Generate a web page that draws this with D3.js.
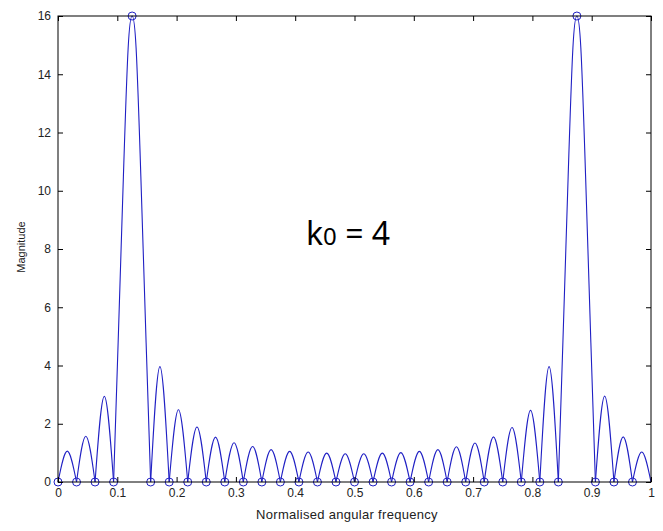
<!DOCTYPE html>
<html>
<head>
<meta charset="utf-8">
<script src="https://cdn.jsdelivr.net/npm/d3@7"></script>
<style>
  html, body { margin: 0; padding: 0; background: #ffffff; }
  svg { display: block; }
</style>
</head>
<body>
<svg id="chart" width="663" height="531"></svg>
<script>
// ---- data ----
const xTicks = [0, 0.1, 0.2, 0.3, 0.4, 0.5, 0.6, 0.7, 0.8, 0.9, 1];
const xTickLabels = ["0", "0.1", "0.2", "0.3", "0.4", "0.5", "0.6", "0.7", "0.8", "0.9", "1"];
const yTicks = [0, 2, 4, 6, 8, 10, 12, 14, 16];
const yTickLabels = ["0", "2", "4", "6", "8", "10", "12", "14", "16"];

// DFT samples (circles)
const dftFreqs = [0, 0.03125, 0.0625, 0.09375, 0.125, 0.15625, 0.1875, 0.21875,
  0.25, 0.28125, 0.3125, 0.34375, 0.375, 0.40625, 0.4375, 0.46875,
  0.5, 0.53125, 0.5625, 0.59375, 0.625, 0.65625, 0.6875, 0.71875,
  0.75, 0.78125, 0.8125, 0.84375, 0.875, 0.90625, 0.9375, 0.96875];
const dftValues = [0, 0, 0, 0, 16, 0, 0, 0, 0, 0, 0, 0, 0, 0, 0, 0,
  0, 0, 0, 0, 0, 0, 0, 0, 0, 0, 0, 0, 16, 0, 0, 0];

// Zeros of the continuous magnitude curve
const zeroFreqs = [0, 0.03125, 0.0625, 0.09375, 0.15625, 0.1875, 0.21875, 0.25,
  0.28125, 0.3125, 0.34375, 0.375, 0.40625, 0.4375, 0.46875, 0.5, 0.53125,
  0.5625, 0.59375, 0.625, 0.65625, 0.6875, 0.71875, 0.75, 0.78125, 0.8125,
  0.84375, 0.90625, 0.9375, 0.96875, 1];
// Side-lobe peak magnitudes, left to right
const sideLobePeaks = [1.06, 1.57, 2.94,
  3.96, 2.48, 1.89, 1.54, 1.35, 1.22, 1.11, 1.05, 1.03, 0.99, 0.97,
  0.97, 0.99, 1.01, 1.05, 1.11, 1.21, 1.34, 1.55, 1.87, 2.46, 3.96,
  2.95, 1.55, 1.03];
// Main lobes (read points)
const mainLobe1Freqs = [0.09375, 0.1014, 0.1103, 0.1183, 0.125, 0.1317, 0.1397, 0.1486, 0.15625];
const mainLobe2Freqs = [0.84375, 0.8514, 0.8603, 0.8683, 0.875, 0.8817, 0.8897, 0.8986, 0.90625];
const mainLobeValues = [0, 4.78, 10.5, 14.9, 16, 14.9, 10.5, 4.78, 0];

// ---- drawing ----
const svg = d3.select("#chart");
const mLeft = 58, mRight = 651, mTop = 16, mBottom = 482;
const x = d3.scaleLinear().domain([0, 1]).range([mLeft, mRight]);
const y = d3.scaleLinear().domain([0, 16]).range([mBottom, mTop]);
const blue = "#2020c4";
const textColor = "#222";
const font = "'Liberation Sans', Arial, sans-serif";

// lobes
const lobes = [];
let sideIdx = 0;
const mains = [mainLobe1Freqs, mainLobe2Freqs];
let mainIdx = 0;
for (let i = 0; i < zeroFreqs.length - 1; i++) {
  const a = zeroFreqs[i], b = zeroFreqs[i + 1];
  if (b - a > 0.04) {
    const f = mains[mainIdx++];
    lobes.push(f.map((v, j) => [v, mainLobeValues[j]]));
  } else {
    lobes.push([[a, 0], [(a + b) / 2, sideLobePeaks[sideIdx++]], [b, 0]]);
  }
}
const line = d3.line().x(d => x(d[0])).y(d => y(d[1])).curve(d3.curveNatural);
const g = svg.append("g");
g.selectAll("path.lobe").data(lobes).enter().append("path")
  .attr("class", "lobe")
  .attr("d", line)
  .attr("fill", "none")
  .attr("stroke", blue)
  .attr("stroke-width", 1.1);

// circles
g.selectAll("circle").data(dftFreqs).enter().append("circle")
  .attr("cx", d => x(d))
  .attr("cy", (d, i) => y(dftValues[i]))
  .attr("r", 4)
  .attr("fill", "none")
  .attr("stroke", blue)
  .attr("stroke-width", 1);

// axes
function styleAxis(sel) {
  sel.select(".domain").remove();
  sel.selectAll(".tick line").attr("stroke", "#000");
  sel.selectAll("text").attr("fill", textColor).style("font-family", font).style("font-size", "12px");
}
svg.append("g").attr("transform", `translate(0,${mBottom})`)
  .call(d3.axisBottom(x).tickValues(xTicks).tickSize(-5).tickPadding(6)
    .tickFormat((d, i) => xTickLabels[i]))
  .call(styleAxis);
svg.append("g").attr("transform", `translate(0,${mTop})`)
  .call(d3.axisTop(x).tickValues(xTicks).tickSize(-5).tickFormat(""))
  .call(styleAxis);
svg.append("g").attr("transform", `translate(${mLeft},0)`)
  .call(d3.axisLeft(y).tickValues(yTicks).tickSize(-5).tickPadding(7)
    .tickFormat((d, i) => yTickLabels[i]))
  .call(styleAxis);
svg.append("g").attr("transform", `translate(${mRight},0)`)
  .call(d3.axisRight(y).tickValues(yTicks).tickSize(-5).tickFormat(""))
  .call(styleAxis);

svg.append("rect")
  .attr("x", mLeft).attr("y", mTop)
  .attr("width", mRight - mLeft).attr("height", mBottom - mTop)
  .attr("fill", "none").attr("stroke", "#000").attr("stroke-width", 1);

// axis titles
svg.append("text")
  .attr("x", 347).attr("y", 519)
  .attr("text-anchor", "middle")
  .attr("fill", textColor)
  .style("font-family", font).style("font-size", "13px")
  .style("letter-spacing", "0.3px")
  .text("Normalised angular frequency");
svg.append("text")
  .attr("transform", "translate(25,247) rotate(-90)")
  .attr("text-anchor", "middle")
  .attr("fill", textColor)
  .style("font-family", font).style("font-size", "11px")
  .text("Magnitude");

// annotation
const ann = svg.append("text")
  .attr("x", 306).attr("y", 245)
  .attr("fill", "#000")
  .style("font-family", "'Noto Sans', 'Open Sans', sans-serif")
  .style("font-size", "32px");
ann.append("tspan").text("k");
ann.append("tspan").style("font-size", "24px").text("0");
ann.append("tspan").text(" = 4");
</script>
</body>
</html>
